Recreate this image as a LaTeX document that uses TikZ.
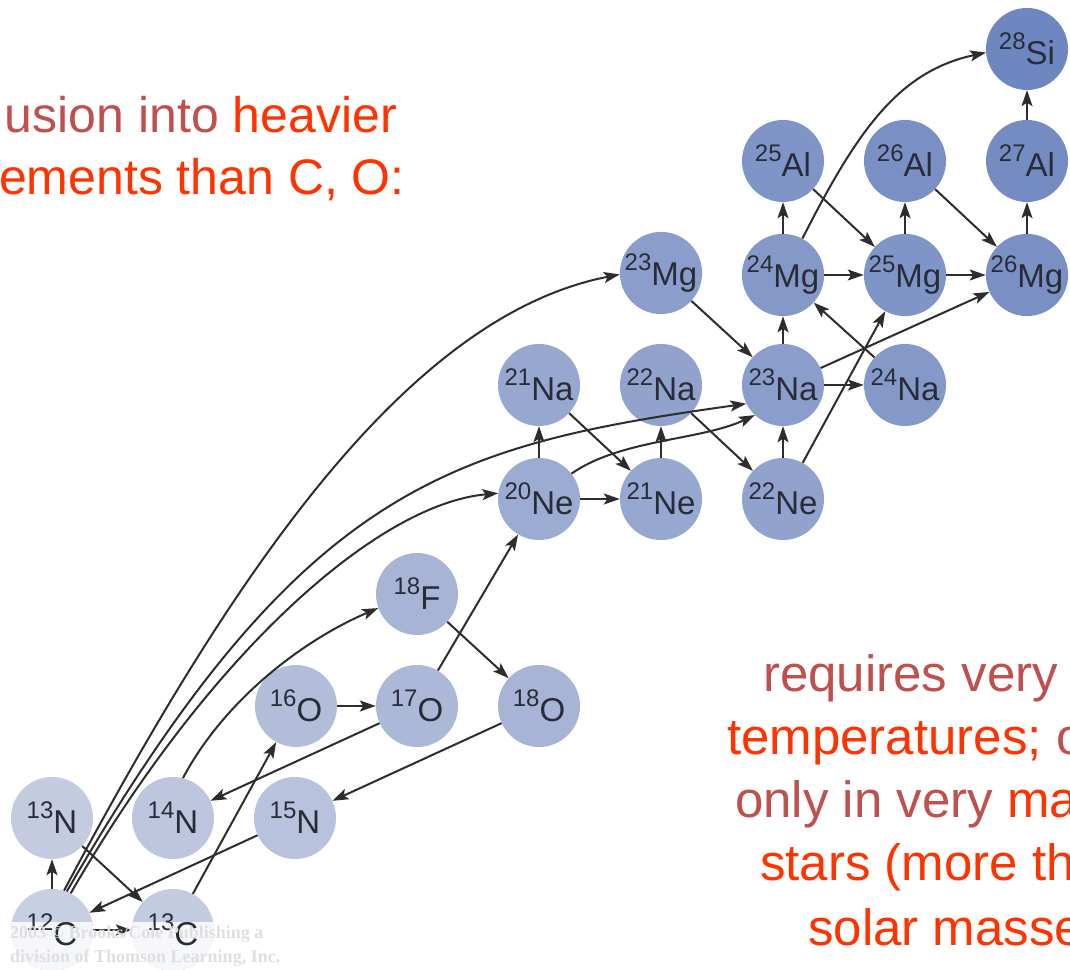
\documentclass[tikz,border=0pt]{standalone}
\usepackage{fontspec}
\setmainfont{Liberation Sans}
\newfontfamily\wmfont{Liberation Serif}
\usetikzlibrary{arrows.meta}
\pgfdeclarelayer{bg}
\pgfsetlayers{bg,main}
\definecolor{lightn}{RGB}{206,211,229}
\definecolor{darkn}{RGB}{110,135,192}
\definecolor{lbl}{RGB}{40,44,56}
\definecolor{edgecol}{RGB}{45,45,45}
\definecolor{brn}{RGB}{192,80,77}
\definecolor{rd}{RGB}{255,51,0}
\newcommand{\iso}[2]{\raisebox{15pt}{\fontsize{24}{24}\selectfont #1}#2}
\begin{document}
\begin{tikzpicture}[x=1pt,y=1pt,
  nuc/.style={circle, inner sep=0pt, minimum size=82pt, text=lbl,
    font=\fontsize{33}{33}\selectfont, fill=darkn!#1!lightn},
  washed/.style={path picture={\fill[white,opacity=.85]
    (path picture bounding box.south west) rectangle ([yshift=49pt]path picture bounding box.south east);}},
  link/.style={draw=edgecol, line width=2pt, -{Stealth[length=16pt,width=11pt,inset=3.5pt]}},
  big/.style={font=\fontsize{50}{60}\selectfont, inner sep=0pt},
  big2/.style={font=\fontsize{51}{60}\selectfont, inner sep=0pt, anchor=base west},
  wm/.style={font=\wmfont\bfseries\fontsize{18}{18}\selectfont, text=gray!25, inner sep=0pt, anchor=base west},
]
\useasboundingbox (0,0) rectangle (1070,969);
\clip (0,0) rectangle (1070,969);
\fill[white] (0,0) rectangle (1070,969);

% nuclei
\node[nuc=5, washed] (c12) at (52,39) {\iso{12}{C}};
\node[nuc=11, washed] (c13) at (173,39) {\iso{13}{C}};
\node[nuc=10] (n13) at (52,151) {\iso{13}{N}};
\node[nuc=17] (n14) at (173,151) {\iso{14}{N}};
\node[nuc=23] (n15) at (295,151) {\iso{15}{N}};
\node[nuc=29] (o16) at (296,263) {\iso{16}{O}};
\node[nuc=35] (o17) at (417,263) {\iso{17}{O}};
\node[nuc=41] (o18) at (539,263) {\iso{18}{O}};
\node[nuc=41] (f18) at (417,375) {\iso{18}{F}};
\node[nuc=52] (ne20) at (539,470) {\iso{20}{Ne}};
\node[nuc=58] (ne21) at (661,470) {\iso{21}{Ne}};
\node[nuc=64] (ne22) at (783,470) {\iso{22}{Ne}};
\node[nuc=58] (na21) at (539,584) {\iso{21}{Na}};
\node[nuc=64] (na22) at (661,584) {\iso{22}{Na}};
\node[nuc=70] (na23) at (783,584) {\iso{23}{Na}};
\node[nuc=76] (na24) at (905,584) {\iso{24}{Na}};
\node[nuc=70] (mg23) at (661,696) {\iso{23}{Mg}};
\node[nuc=76] (mg24) at (783,694) {\iso{24}{Mg}};
\node[nuc=82] (mg25) at (905,694) {\iso{25}{Mg}};
\node[nuc=88] (mg26) at (1027,694) {\iso{26}{Mg}};
\node[nuc=82] (al25) at (783,808) {\iso{25}{Al}};
\node[nuc=88] (al26) at (905,808) {\iso{26}{Al}};
\node[nuc=94] (al27) at (1027,808) {\iso{27}{Al}};
\node[nuc=100] (si28) at (1027,920) {\iso{28}{Si}};

% straight links
\draw[link] (c12) -- (n13);
\draw[link] (c12) -- (c13);
\draw[link] (n13) -- (c13);
\draw[link] (c13) -- (o16);
\draw[link] (n15) -- (c12);
\draw[link] (o18) -- (n15);
\draw[link] (o17) -- (n14);
\draw[link] (o16) -- (o17);
\draw[link] (f18) -- (o18);
\draw[link] (o17) -- (ne20);
\draw[link] (ne20) -- (na21);
\draw[link] (ne20) -- (ne21);
\draw[link] (na21) -- (ne21);
\draw[link] (ne21) -- (na22);
\draw[link] (na22) -- (ne22);
\draw[link] (ne22) -- (na23);
\draw[link] (mg23) -- (na23);
\draw[link] (na23) -- (mg24);
\draw[link] (na23) -- (na24);
\draw[link] (na24) -- (mg24);
\draw[link] (ne22) -- (mg25);
\draw[link] (na23) -- (mg26);
\draw[link] (mg24) -- (al25);
\draw[link] (mg24) -- (mg25);
\draw[link] (al25) -- (mg25);
\draw[link] (mg25) -- (al26);
\draw[link] (mg25) -- (mg26);
\draw[link] (al26) -- (mg26);
\draw[link] (mg26) -- (al27);
\draw[link] (al27) -- (si28);

% curved links
\draw[link] (n14.76) .. controls +(62:90) and +(203:80) .. (f18.200);
\draw[link] (c12.73) .. controls +(62:350) and +(191:220) .. (mg23.182);
\draw[link] (c12.69) .. controls +(60:470) and +(188:300) .. (na23.207);
\draw[link] (c12.63) .. controls +(60:280) and +(185:120) .. (ne20.172);
\draw[link] (ne20.38) .. controls +(35:60) and +(205:60) .. (na23.227);
\draw[link] (mg24.62) .. controls +(63:120) and +(192:90) .. (si28.185);
\begin{pgfonlayer}{bg}
\draw[link] (c12.58) .. controls +(60:290) and +(183:150) .. (ne20.center)
  .. controls +(65:190) and +(208:70) .. (mg24.204);
\end{pgfonlayer}

% texts
\node[big, anchor=base east] (t1) at (397,836) {\color{brn}usion into \color{rd}heavier};
\node[big, anchor=base east, text=rd] (t2) at (405,774) {ements than C, O:};
\node[big2, text=brn] (b1) at (763,277) {requires very};
\node[big2] (b2) at (727,214) {\color{rd}temperatures; \color{brn}o};
\node[big2] (b3) at (735,152) {\color{brn}only in very \color{rd}ma};
\node[big2, text=rd] (b4) at (760,89) {stars (more th};
\node[big2, text=rd] (b5) at (808,24) {solar masse};

% watermark
\node[wm] (w1) at (10,31) {2003 © Brooks/Cole Publishing a};
\node[wm] (w2) at (10,7) {division of Thomson Learning, Inc.};
\end{tikzpicture}
\end{document}
